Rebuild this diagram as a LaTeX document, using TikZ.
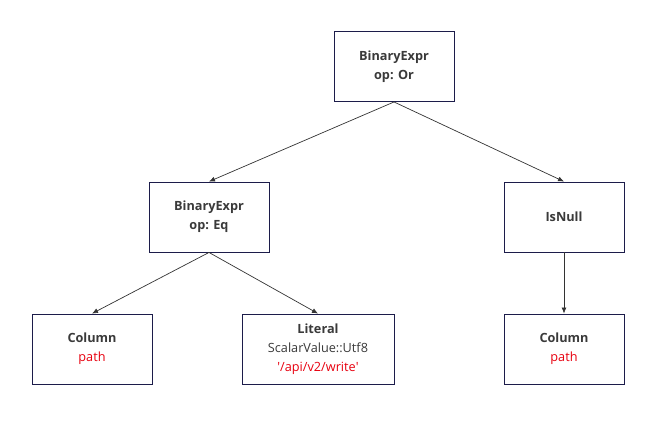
\documentclass[tikz,border=0pt]{standalone}
\usepackage{fontspec}
\setmainfont{Open Sans}
\usetikzlibrary{arrows.meta}
\definecolor{boxline}{HTML}{1C1C4A}
\definecolor{txt}{HTML}{3A3A3A}
\definecolor{edge}{HTML}{333333}
\definecolor{redtxt}{HTML}{E8000F}
\begin{document}
\begin{tikzpicture}[x=1pt,y=-1pt,
  box/.style={draw=boxline,line width=0.9pt,fill=white,minimum width=120pt,minimum height=70pt,
    align=center,inner sep=0pt,text=txt,font=\fontsize{12.7}{19}\selectfont},
  arr/.style={draw=edge,line width=0.7pt,-{Latex[length=6pt,width=5pt]}},
  rd/.style={text=redtxt}]
\useasboundingbox (0,0) rectangle (654,429);
\node[box] (top) at (394,66.5) {\textbf{BinaryExpr}\\\textbf{op: Or}};
\node[box] (eq) at (209,217) {\textbf{BinaryExpr}\\\textbf{op: Eq}};
\node[box] (isnull) at (564,217) {\textbf{IsNull}};
\node[box] (col1) at (92,349) {\textbf{Column}\\\textcolor{redtxt}{path}};
\node[box,minimum width=152pt] (lit) at (318,349) {\textbf{Literal}\\ScalarValue::Utf8\\\textcolor{redtxt}{\textquotesingle/api/v2/write\textquotesingle}};
\node[box] (col2) at (564,349) {\textbf{Column}\\\textcolor{redtxt}{path}};
\draw[arr] (top.south) -- (eq.north);
\draw[arr] (top.south) -- (isnull.north);
\draw[arr] (eq.south) -- (col1.north);
\draw[arr] (eq.south) -- (lit.north);
\draw[arr] (isnull.south) -- (col2.north);
\end{tikzpicture}
\end{document}
